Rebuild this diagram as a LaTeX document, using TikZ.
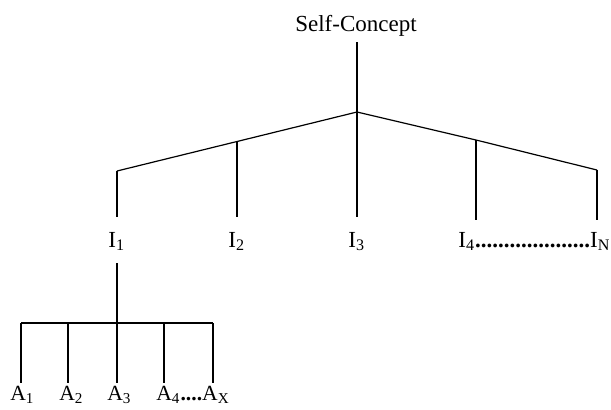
\documentclass[tikz,border=0pt]{standalone}
\usepackage{fontspec}
\setmainfont{Liberation Serif}
\usetikzlibrary{backgrounds,positioning}
\pgfdeclarelayer{edgelayer}
\pgfdeclarelayer{nodelayer}
\pgfsetlayers{background,edgelayer,nodelayer,main}
\tikzstyle{none}=[inner sep=0mm]
\tikzstyle{lbl}=[inner sep=0mm,anchor=base west,font=\fontsize{11.5}{13}\selectfont]
\tikzstyle{albl}=[lbl,font=\fontsize{10.8}{12}\selectfont]
\tikzstyle{branch}=[line width=0.6pt]
\newcommand{\dotrun}[1]{\textbf{#1}}

\begin{document}
\begin{tikzpicture}[x=0.5pt,y=-0.5pt]
	\useasboundingbox (0,0) rectangle (611,409);
	\begin{pgfonlayer}{nodelayer}
		\node [style=lbl,anchor=base] (root) at (356, 31) {Self-Concept};
		\node [style=none] (rt) at (357, 42) {};
		\node [style=none] (hub) at (357, 112) {};
		\node [style=none] (l1) at (117, 171) {};
		\node [style=none] (l2) at (237, 141.5) {};
		\node [style=none] (r1) at (476, 140) {};
		\node [style=none] (r2) at (597, 170) {};
		\node [style=none] (d1) at (117, 217) {};
		\node [style=none] (d2) at (237, 217) {};
		\node [style=none] (d3) at (357, 217) {};
		\node [style=none] (d4) at (476, 220) {};
		\node [style=none] (d5) at (597, 220) {};
		\node [style=lbl] (i1) at (108, 247) {I\textsubscript{1}};
		\node [style=lbl] (i2) at (228, 247) {I\textsubscript{2}};
		\node [style=lbl] (i3) at (348, 247) {I\textsubscript{3}};
		\node [style=lbl] (i4) at (458, 247) {I\textsubscript{4}\dotrun{....................}I\textsubscript{N}};
		% attributes under I1
		\node [style=none] (s1) at (117, 263) {};
		\node [style=none] (bar) at (117, 323) {};
		\node [style=none] (t1) at (21, 323) {};
		\node [style=none] (t2) at (68, 323) {};
		\node [style=none] (t5) at (213, 323) {};
		\node [style=none] (t4) at (164, 323) {};
		\node [style=none] (e1) at (21, 383) {};
		\node [style=none] (e2) at (68, 383) {};
		\node [style=none] (e3) at (117, 383) {};
		\node [style=none] (e4) at (164, 383) {};
		\node [style=none] (e5) at (213, 383) {};
		\node [style=albl] (a1) at (10, 400) {A\textsubscript{1}};
		\node [style=albl] (a2) at (59, 400) {A\textsubscript{2}};
		\node [style=albl] (a3) at (107, 400) {A\textsubscript{3}};
		\node [style=albl] (a4) at (156, 400) {A\textsubscript{4}\dotrun{....}A\textsubscript{X}};
	\end{pgfonlayer}
	\begin{pgfonlayer}{edgelayer}
		\draw [style=branch] (rt.center) to (hub.center);
		\draw [style=branch] (l1.center) to (l2.center) to (hub.center) to (r1.center) to (r2.center);
		\draw [style=branch] (l1.center) to (d1.center);
		\draw [style=branch] (l2.center) to (d2.center);
		\draw [style=branch] (hub.center) to (d3.center);
		\draw [style=branch] (r1.center) to (d4.center);
		\draw [style=branch] (r2.center) to (d5.center);
		\draw [line width=0.9pt] (s1.center) to (bar.center);
		\draw [style=branch] (t1.center) to (t2.center) to (bar.center) to (t4.center) to (t5.center);
		\draw [style=branch] (t1.center) to (e1.center);
		\draw [style=branch] (t2.center) to (e2.center);
		\draw [style=branch] (bar.center) to (e3.center);
		\draw [style=branch] (t4.center) to (e4.center);
		\draw [style=branch] (t5.center) to (e5.center);
	\end{pgfonlayer}
\end{tikzpicture}
\end{document}
